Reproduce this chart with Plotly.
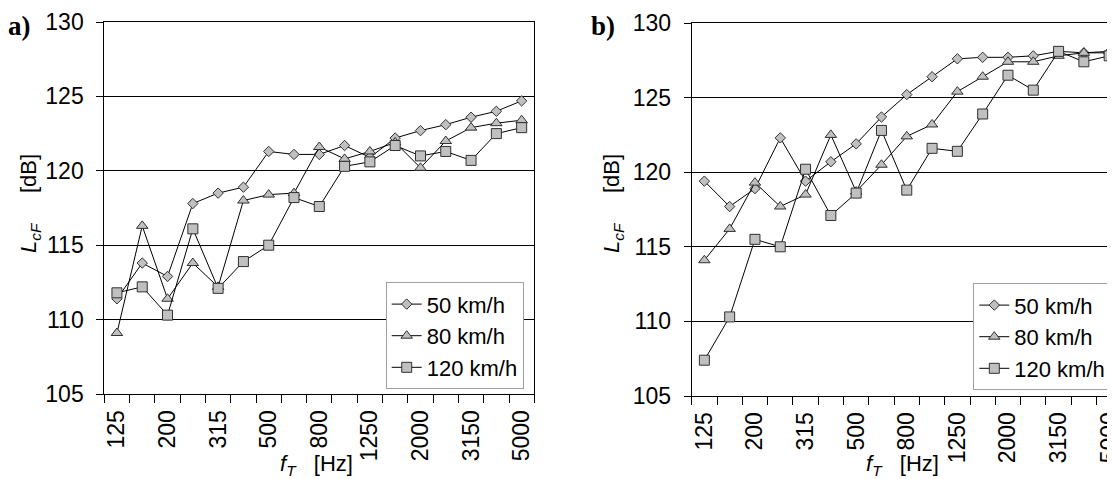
import plotly.graph_objects as go

# ---- data ----
freq_labels = ["125", "160", "200", "250", "315", "400", "500", "630", "800",
               "1000", "1250", "1600", "2000", "2500", "3150", "4000", "5000"]
shown_labels = ["125", "200", "315", "500", "800", "1250", "2000", "3150", "5000"]
y_ticks = [105, 110, 115, 120, 125, 130]

a_50 = [111.4, 113.8, 112.9, 117.8, 118.5, 118.9, 121.3, 121.1, 121.1, 121.7, 120.9, 122.2, 122.7, 123.1, 123.6, 124.0, 124.7]
a_80 = [109.1, 116.3, 111.4, 113.8, 112.2, 118.0, 118.4, 118.5, 121.6, 120.8, 121.3, 121.9, 120.2, 122.0, 122.9, 123.2, 123.4]
a_120 = [111.8, 112.2, 110.3, 116.1, 112.1, 113.9, 115.0, 118.2, 117.6, 120.3, 120.6, 121.7, 121.0, 121.3, 120.7, 122.5, 122.9]

b_50 = [119.4, 117.7, 118.9, 122.3, 119.4, 120.7, 121.9, 123.7, 125.2, 126.4, 127.6, 127.7, 127.7, 127.8, 128.1, 128.0, 128.0]
b_80 = [114.1, 116.2, 119.3, 117.7, 118.5, 122.5, 118.7, 120.5, 122.4, 123.2, 125.4, 126.4, 127.4, 127.4, 127.8, 128.0, 128.1]
b_120 = [107.4, 110.3, 115.5, 115.0, 120.2, 117.1, 118.6, 122.8, 118.8, 121.6, 121.4, 123.9, 126.5, 125.5, 128.1, 127.4, 127.8]

series_names = ["50 km/h", "80 km/h", "120 km/h"]

# ---- styling ----
OFF = 8                      # default page body margin
W, H = 1115 - OFF, 479 - OFF  # figure size so the visible area is 1115x479
FONT = "Liberation Sans, Arial, sans-serif"
FS = 22
symbols = {"50 km/h": ("diamond", 8), "80 km/h": ("triangle-up", 10), "120 km/h": ("square", 10)}


def fx(p):
    """screen x pixel -> paper x"""
    return (p - OFF) / W


def fy(p):
    """screen y pixel -> paper y"""
    return (H - (p - OFF)) / H


fig = go.Figure()

panels = [
    ("x", "y", "legend", [a_50, a_80, a_120]),
    ("x2", "y2", "legend2", [b_50, b_80, b_120]),
]
for xa, ya, lg, vals in panels:
    for name, v in zip(series_names, vals):
        sym, sz = symbols[name]
        fig.add_trace(go.Scatter(
            x=freq_labels, y=v, name=name, mode="lines+markers",
            xaxis=xa, yaxis=ya, legend=lg,
            line=dict(color="black", width=1),
            marker=dict(symbol=sym, size=sz, color="#c0c0c0",
                        line=dict(color="#303030", width=1)),
        ))

ticktext = [l if l in shown_labels else "" for l in freq_labels]

xcommon = dict(type="category", tickson="boundaries", ticks="outside", ticklen=8,
               tickcolor="black", tickwidth=1, showline=True, linecolor="black",
               linewidth=1, mirror=True, showgrid=False, zeroline=False,
               tickangle=-90, tickmode="array", tickvals=freq_labels, ticktext=ticktext,
               tickfont=dict(family=FONT, size=23, color="black"),
               ticklabelstandoff=6, automargin=False)
ycommon = dict(range=[105, 130], tickmode="array", tickvals=y_ticks,
               ticks="outside", ticklen=7, tickcolor="black", tickwidth=1,
               showline=True, linecolor="black", linewidth=1,
               showgrid=True, gridcolor="black", gridwidth=1, zeroline=False,
               tickfont=dict(family=FONT, size=23, color="black"),
               ticklabelstandoff=8, automargin=False)

fig.update_layout(
    template="none",
    width=W, height=H, margin=dict(l=0, r=0, t=0, b=0, pad=0, autoexpand=False),
    paper_bgcolor="white", plot_bgcolor="white",
    font=dict(family=FONT, size=FS, color="black"),
    xaxis=dict(domain=[fx(104.3), fx(534.3)], range=[-0.5, 16.5], anchor="y", **xcommon),
    yaxis=dict(domain=[fy(394), fy(22)], anchor="x", mirror=True, **ycommon),
    xaxis2=dict(domain=[fx(691.7), 1.0], range=[-0.5, 16.23], anchor="y2", **xcommon),
    yaxis2=dict(domain=[fy(396), fy(23)], anchor="x2", mirror=False, **ycommon),
    legend=dict(x=fx(385.7), y=fy(282.3), xanchor="left", yanchor="top",
                bordercolor="#a0a0a0", borderwidth=1, bgcolor="white",
                font=dict(family=FONT, size=FS, color="black"), tracegroupgap=0),
    legend2=dict(x=fx(973.3), y=fy(283.3), xanchor="left", yanchor="top",
                 bordercolor="#a0a0a0", borderwidth=1, bgcolor="white",
                 font=dict(family=FONT, size=FS, color="black"), tracegroupgap=0),
    showlegend=True,
)

ann = []
serif = "Liberation Serif, Times New Roman, serif"
# panel labels
ann.append(dict(text="<b>a)</b>", x=fx(6), y=fy(26), xref="paper", yref="paper",
                xanchor="left", yanchor="middle", showarrow=False,
                font=dict(family=serif, size=27, color="black")))
ann.append(dict(text="<b>b)</b>", x=fx(589), y=fy(26), xref="paper", yref="paper",
                xanchor="left", yanchor="middle", showarrow=False,
                font=dict(family=serif, size=27, color="black")))
# axis titles
xt = "<i>f</i><sub><i>T</i></sub>&nbsp;&nbsp;&nbsp;[Hz]"
yt = "<i>L</i><sub><i>cF</i></sub>&nbsp;&nbsp;&nbsp;&nbsp;&nbsp;[dB]"
ann.append(dict(text=xt, x=fx(316), y=fy(465), xref="paper", yref="paper",
                xanchor="center", yanchor="middle", showarrow=False, font=dict(size=FS)))
ann.append(dict(text=xt, x=fx(902), y=fy(465), xref="paper", yref="paper",
                xanchor="center", yanchor="middle", showarrow=False, font=dict(size=FS)))
ann.append(dict(text=yt, x=fx(30), y=fy(204), xref="paper", yref="paper",
                xanchor="center", yanchor="middle", showarrow=False, textangle=-90,
                font=dict(size=FS)))
ann.append(dict(text=yt, x=fx(613), y=fy(204), xref="paper", yref="paper",
                xanchor="center", yanchor="middle", showarrow=False, textangle=-90,
                font=dict(size=FS)))
fig.update_layout(annotations=ann)

fig.write_html("out.html")
